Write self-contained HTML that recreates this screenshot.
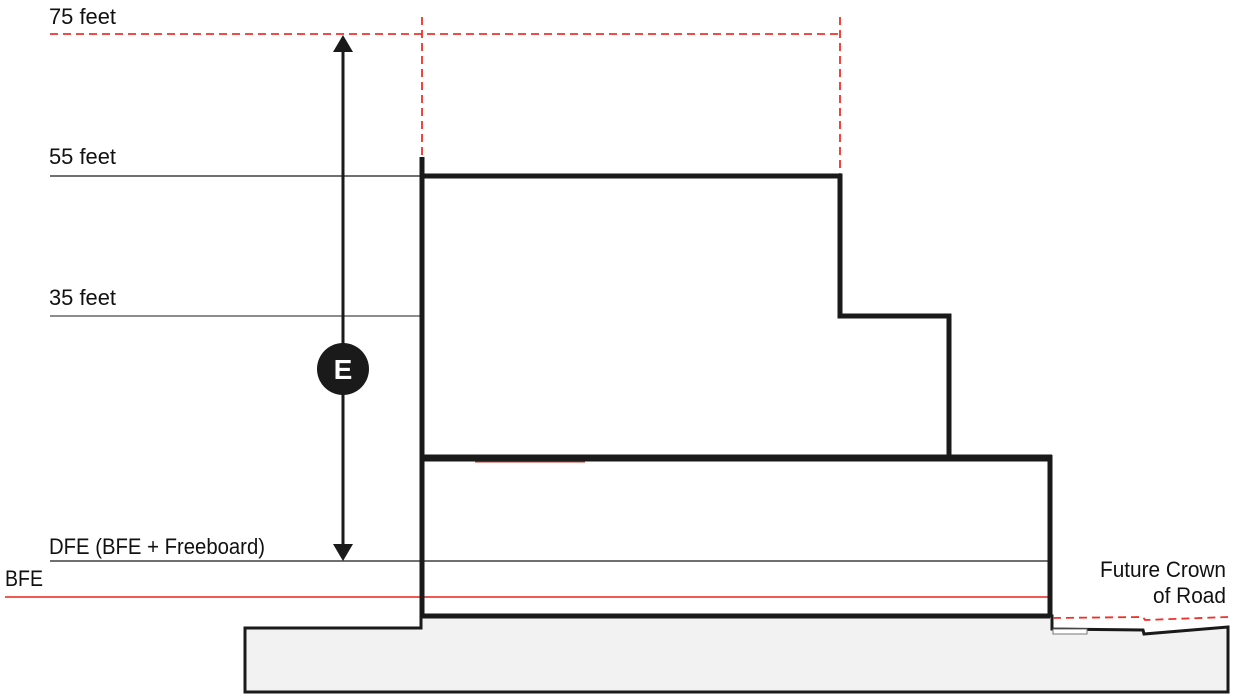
<!DOCTYPE html>
<html><head><meta charset="utf-8"><style>
html,body{margin:0;padding:0;background:#fff;}
svg{display:block;}
text{font-family:"Liberation Sans",sans-serif;font-size:22px;fill:#111;}
</style></head><body>
<svg width="1236" height="699" viewBox="0 0 1236 699" xmlns="http://www.w3.org/2000/svg">
<polygon points="245,628 421,628 421,616 1052,616 1052,629 1143,630 1144,634 1228,627 1228,692 245,692" fill="#f2f2f2" stroke="#1a1a1a" stroke-width="3"/>
<rect x="1053" y="629" width="34" height="5" fill="#fff" stroke="#777" stroke-width="1"/>
<line x1="50" y1="176" x2="422" y2="176" stroke="#1a1a1a" stroke-width="1.2"/>
<line x1="50" y1="316" x2="422" y2="316" stroke="#1a1a1a" stroke-width="1"/>
<line x1="50" y1="561" x2="1050" y2="561" stroke="#1a1a1a" stroke-width="1.2"/>
<line x1="5" y1="597" x2="1050" y2="597" stroke="#e8231a" stroke-width="1.5"/>
<g stroke="#f0302a" stroke-width="1.8" stroke-dasharray="8,5" fill="none">
<line x1="50" y1="34" x2="840" y2="34"/>
<line x1="422" y1="17" x2="422" y2="176"/>
<line x1="840" y1="17" x2="840" y2="176"/>
<polyline points="1053,618 1143,617 1145,620 1228,617"/>
</g>
<polyline points="422,157 422,616 1050,616" fill="none" stroke="#1a1a1a" stroke-width="5"/>
<polyline points="422,176 840,176 840,316 949,316 949,455" fill="none" stroke="#1a1a1a" stroke-width="5"/>
<line x1="422" y1="458" x2="1052" y2="458" stroke="#1a1a1a" stroke-width="7"/>
<line x1="1050" y1="455" x2="1050" y2="616" stroke="#1a1a1a" stroke-width="5"/>
<line x1="475" y1="462" x2="585" y2="462" stroke="#c0392b" stroke-width="1"/>
<line x1="343" y1="48" x2="343" y2="548" stroke="#1a1a1a" stroke-width="3"/>
<polygon points="343,35 333,52 353,52" fill="#1a1a1a"/>
<polygon points="343,561 333,544 353,544" fill="#1a1a1a"/>
<circle cx="343" cy="369" r="26" fill="#1a1a1a"/>
<text x="343" y="379" text-anchor="middle" style="font-weight:bold;font-size:28px;fill:#fff">E</text>
<text x="49" y="24" textLength="67" lengthAdjust="spacingAndGlyphs">75 feet</text>
<text x="49" y="164" textLength="67" lengthAdjust="spacingAndGlyphs">55 feet</text>
<text x="49" y="305" textLength="67" lengthAdjust="spacingAndGlyphs">35 feet</text>
<text x="49" y="554" textLength="216" lengthAdjust="spacingAndGlyphs">DFE (BFE + Freeboard)</text>
<text x="5" y="586" textLength="38" lengthAdjust="spacingAndGlyphs">BFE</text>
<text x="1100" y="577" textLength="126" lengthAdjust="spacingAndGlyphs">Future Crown</text>
<text x="1153" y="603" textLength="73" lengthAdjust="spacingAndGlyphs">of Road</text>
</svg>
</body></html>
